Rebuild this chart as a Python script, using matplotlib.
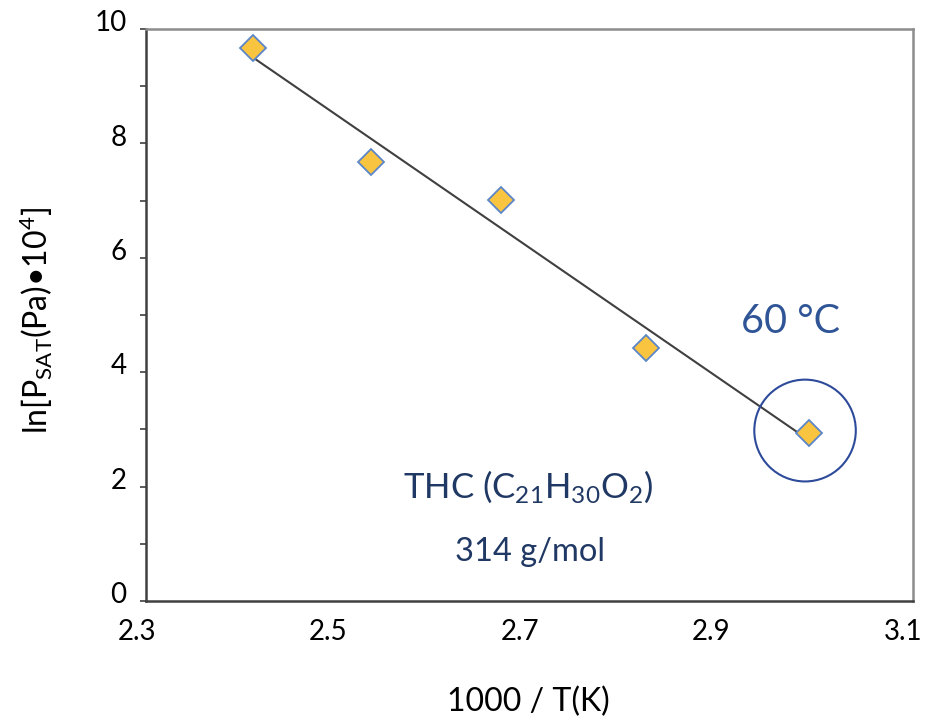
import matplotlib
matplotlib.use("Agg")
import matplotlib.pyplot as plt
import numpy as np
from matplotlib.patches import Ellipse
from matplotlib.transforms import ScaledTranslation

# 1000/T for 140, 120, 100, 80, 60 degC
inv_temp = [2.4207, 2.5439, 2.6799, 2.8317, 3.0017]
ln_psat = [9.66, 7.68, 7.01, 4.42, 2.93]
x_ticks = [2.3, 2.5, 2.7, 2.9, 3.1]
y_ticks = [0, 2, 4, 6, 8, 10]

plt.rcParams["font.family"] = ["Lato", "DejaVu Sans"]
plt.rcParams["mathtext.fontset"] = "custom"
plt.rcParams["mathtext.rm"] = "Lato"
plt.rcParams["mathtext.it"] = "Lato"

NAVY = "#203864"
BLUE = "#2F5597"


def main():
    fig = plt.figure(figsize=(9.26, 7.19), dpi=100)
    ax = fig.add_axes([137 / 926, 118 / 719, 766 / 926, 572 / 719])
    plot_data(ax)
    set_properties(fig, ax)
    fig.savefig("out.png", dpi=100)


def plot_data(ax):
    slope, icpt = np.polyfit(inv_temp, ln_psat, 1)
    xs = np.array([inv_temp[0], inv_temp[-1]])
    ax.plot(xs, slope * xs + icpt, color="#404040", lw=1.5, zorder=2)
    ax.plot(inv_temp, ln_psat, ls="none", marker="D", ms=13.5,
            mfc="#F9C440", mec="#5B86C9", mew=1.3, zorder=3)
    circ = Ellipse((inv_temp[-1] - 0.004, ln_psat[-1] + 0.05),
                   width=0.106, height=1.78, fill=False,
                   ec="#2E4A9A", lw=1.5, zorder=4)
    ax.add_patch(circ)
    ax.text(2.982, 4.88, "60 °C", color=BLUE, fontsize=28.5,
            ha="center", va="center")
    ax.text(2.708, 2.0, r"THC (C$_{21}$H$_{30}$O$_{2}$)", color=NAVY,
            fontsize=25, ha="center", va="center")
    ax.text(2.71, 0.86, "314 g/mol", color=NAVY, fontsize=23.5,
            ha="center", va="center")


def set_properties(fig, ax):
    ax.set_xlim(2.3, 3.1)
    ax.set_ylim(0, 10)
    ax.set_xticks(x_ticks)
    ax.set_xticklabels([f"{t:.1f}" for t in x_ticks])
    ax.set_yticks(y_ticks)
    ax.set_yticks(np.arange(1, 10, 2), minor=True)
    ax.tick_params(axis="x", length=0, pad=13, labelsize=20)
    ax.tick_params(axis="y", which="both", direction="out", length=4,
                   width=1.2, color="#404040", pad=10, labelsize=20)

    # the plot frame sits a few pixels right of the value scale
    left = 2.3 + 9 / 957.5
    right = 3.1 + 10 / 957.5
    ax.spines["left"].set_position(("data", left))
    ax.spines["right"].set_position(("data", right))
    ax.spines["bottom"].set_bounds(left, right)
    ax.spines["top"].set_bounds(left, right)
    for side in ["left", "bottom"]:
        ax.spines[side].set_color("#404040")
        ax.spines[side].set_linewidth(1.8)
    for side in ["top", "right"]:
        ax.spines[side].set_color("#8c8c8c")
        ax.spines[side].set_linewidth(1.8)

    shift = ScaledTranslation(0, 6 / 72, fig.dpi_scale_trans)
    for lab in ax.get_yticklabels():
        lab.set_transform(lab.get_transform() + shift)

    fig.text(528 / 926, 1 - 702 / 719, "1000 / T(K)", fontsize=23,
             ha="center", va="center")
    fig.text(36 / 926, 1 - 320 / 719, r"ln[P$_{\mathrm{SAT}}$(Pa)•10$^{4}$]",
             fontsize=23, ha="center", va="center", rotation=90)


if __name__ == "__main__":
    main()
